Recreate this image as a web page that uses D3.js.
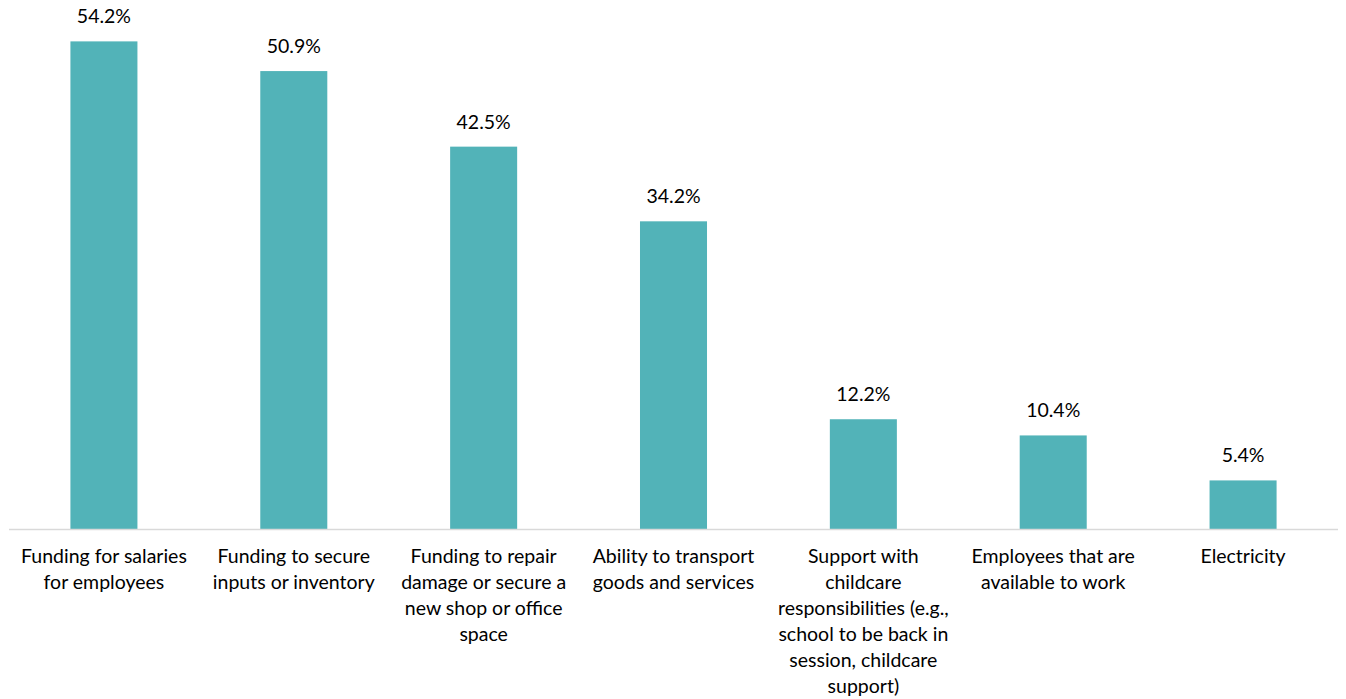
<html>
<script src="https://d3js.org/d3.v7.min.js"></script>
<style>
  body { margin: 0; background: #fff; }
  text { font-family: Lato, "Open Sans", sans-serif; fill: #000; }
</style>
<body>
<div id="chart"></div>
<script>
var categories = [
  ['Funding for salaries', 'for employees'],
  ['Funding to secure', 'inputs or inventory'],
  ['Funding to repair', 'damage or secure a', 'new shop or office', 'space'],
  ['Ability to transport', 'goods and services'],
  ['Support with', 'childcare', 'responsibilities (e.g.,', 'school to be back in', 'session, childcare', 'support)'],
  ['Employees that are', 'available to work'],
  ['Electricity']
]
var values = [54.2, 50.9, 42.5, 34.2, 12.2, 10.4, 5.4]

var width = 1346
var height = 699
var baseY = 529

var svg = d3.select('#chart').append('svg')
    .attr('width', width)
    .attr('height', height)

var xs = d3.scaleBand().domain(d3.range(values.length)).range([9, 1338])
var ys = d3.scaleLinear().domain([0, 58.8]).range([baseY, 0])
var barW = xs.bandwidth() * 0.353

svg.selectAll('rect.bar')
    .data(values)
    .enter()
    .append('rect')
    .attr('class', 'bar')
    .attr('x', function(d, i) { return xs(i) + xs.bandwidth() / 2 - barW / 2 })
    .attr('y', function(d) { return ys(d) })
    .attr('width', barW)
    .attr('height', function(d) { return baseY - ys(d) })
    .attr('fill', '#52B3B8')

// baseline
svg.append('line')
    .attr('x1', 9).attr('x2', 1338)
    .attr('y1', baseY + 0.5).attr('y2', baseY + 0.5)
    .attr('stroke', '#d9d9d9')
    .attr('stroke-width', 1.5)

svg.selectAll('text.val')
    .data(values)
    .enter()
    .append('text')
    .attr('class', 'val')
    .attr('x', function(d, i) { return xs(i) + xs.bandwidth() / 2 })
    .attr('y', function(d) { return ys(d) - 18 })
    .attr('text-anchor', 'middle')
    .style('font-size', '19.5px')
    .text(function(d) { return d.toFixed(1) + '%' })

var labels = svg.selectAll('text.cat')
    .data(categories)
    .enter()
    .append('text')
    .attr('class', 'cat')
    .attr('text-anchor', 'middle')
    .style('font-size', '19.5px')

labels.each(function(lines, i) {
    var t = d3.select(this)
    lines.forEach(function(l, j) {
        t.append('tspan')
            .attr('x', xs(i) + xs.bandwidth() / 2)
            .attr('y', 563 + j * 26)
            .text(l)
    })
})
</script>
</body>
</html>
